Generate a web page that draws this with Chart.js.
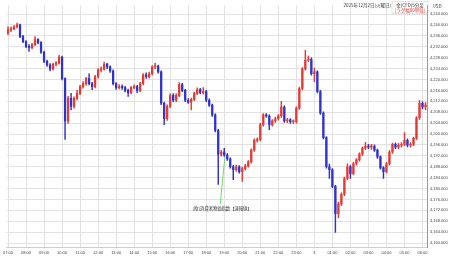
<!DOCTYPE html>
<html>
<head>
<meta charset="utf-8">
<script src="https://cdn.jsdelivr.net/npm/chart.js@4.4.1/dist/chart.umd.min.js"></script>
<style>
  html, body { margin: 0; padding: 0; background: #fff; }
  canvas { display: block; }
</style>
</head>
<body>
<canvas id="chart" width="450" height="258"></canvas>
<script>
// Gold (CFD) candles, 10 minute steps from 07:00 to 06:10 next day
const opens = [
  4237.1, 4238.2, 4238.6, 4239.3, 4240.0, 4235.7, 4233.9, 4232.1, 4231.7, 4232.8,
  4234.6, 4233.5, 4230.0, 4226.7, 4225.3, 4223.9, 4225.6, 4226.0, 4228.2, 4220.3,
  4204.8, 4213.1, 4210.2, 4213.1, 4214.9, 4217.4, 4218.5, 4220.3, 4218.5, 4217.4,
  4221.0, 4223.5, 4223.9, 4225.6, 4224.6, 4223.1, 4218.5, 4217.0, 4217.4, 4217.0,
  4216.0, 4215.2, 4217.0, 4217.4, 4216.0, 4218.5, 4221.7, 4221.0, 4222.1, 4224.6,
  4224.9, 4222.8, 4211.3, 4205.6, 4210.2, 4214.2, 4212.4, 4214.2, 4218.1, 4216.0,
  4212.4, 4211.7, 4212.7, 4214.9, 4216.3, 4215.2, 4215.6, 4212.4, 4210.6, 4207.0,
  4201.3, 4192.6, 4193.4, 4192.3, 4190.9, 4188.0, 4186.9, 4188.0, 4186.2, 4187.3,
  4188.3, 4189.8, 4194.1, 4197.7, 4198.0, 4203.4, 4207.0, 4206.6, 4203.4, 4204.8,
  4205.6, 4206.6, 4209.9, 4204.8, 4205.2, 4204.5, 4204.5, 4209.5, 4216.7, 4223.9,
  4227.1, 4227.4, 4222.1, 4222.8, 4215.6, 4207.7, 4198.7, 4188.0, 4186.9, 4180.8,
  4170.8, 4174.3, 4177.9, 4183.7, 4188.0, 4185.5, 4189.1, 4190.5, 4192.6, 4194.8,
  4195.5, 4195.2, 4195.5, 4194.1, 4191.6, 4187.6, 4186.2, 4189.1, 4193.4, 4196.2,
  4195.2, 4195.9, 4196.2, 4197.7, 4195.9, 4196.2, 4198.4, 4205.9, 4211.3, 4209.9
];
const highs = [
  4239.3, 4239.3, 4239.8, 4240.7, 4240.3, 4236.2, 4234.3, 4232.8, 4233.3, 4235.7,
  4235.0, 4233.9, 4230.4, 4227.1, 4225.8, 4226.0, 4226.6, 4228.9, 4228.6, 4220.6,
  4213.8, 4214.9, 4213.6, 4216.0, 4217.9, 4219.2, 4220.8, 4222.1, 4219.0, 4221.5,
  4224.0, 4224.6, 4226.4, 4226.0, 4225.0, 4223.5, 4218.9, 4218.1, 4218.0, 4217.5,
  4216.5, 4217.5, 4218.0, 4217.9, 4219.0, 4222.2, 4222.4, 4222.7, 4225.0, 4226.0,
  4225.3, 4223.2, 4211.7, 4210.7, 4214.7, 4214.8, 4214.8, 4218.9, 4218.6, 4216.4,
  4213.0, 4213.2, 4215.4, 4216.9, 4216.8, 4217.0, 4216.0, 4212.9, 4211.0, 4207.4,
  4201.7, 4194.0, 4194.8, 4192.8, 4191.3, 4188.5, 4188.6, 4188.4, 4187.9, 4188.9,
  4190.3, 4194.6, 4198.2, 4198.6, 4203.9, 4207.5, 4207.5, 4207.0, 4205.3, 4206.1,
  4207.1, 4212.0, 4210.3, 4205.8, 4205.7, 4205.2, 4210.0, 4217.2, 4224.4, 4230.7,
  4228.6, 4227.9, 4224.2, 4223.2, 4216.0, 4208.1, 4199.1, 4189.0, 4187.3, 4181.2,
  4175.0, 4178.4, 4184.2, 4189.1, 4188.5, 4189.6, 4191.0, 4193.1, 4195.3, 4197.0,
  4196.2, 4196.2, 4196.0, 4194.5, 4192.0, 4188.1, 4189.6, 4193.9, 4196.7, 4196.8,
  4196.6, 4196.9, 4200.5, 4198.2, 4196.9, 4198.9, 4206.4, 4212.4, 4211.8, 4211.5
];
const lows = [
  4236.4, 4237.5, 4238.2, 4238.9, 4235.3, 4233.5, 4231.7, 4230.3, 4231.2, 4232.4,
  4233.0, 4229.6, 4226.2, 4224.8, 4223.1, 4223.4, 4225.0, 4225.6, 4219.8, 4198.0,
  4203.9, 4208.8, 4209.5, 4212.5, 4214.4, 4216.8, 4217.9, 4218.0, 4216.3, 4216.9,
  4220.5, 4222.8, 4223.4, 4224.0, 4222.6, 4218.0, 4216.4, 4216.5, 4216.4, 4215.4,
  4213.8, 4214.7, 4216.5, 4215.2, 4215.5, 4218.0, 4220.4, 4220.5, 4221.6, 4224.0,
  4222.3, 4210.8, 4203.4, 4205.0, 4209.7, 4211.9, 4211.9, 4213.7, 4215.5, 4211.9,
  4211.2, 4208.8, 4212.2, 4214.4, 4214.7, 4214.6, 4211.9, 4210.1, 4206.5, 4200.8,
  4181.5, 4191.9, 4191.8, 4190.3, 4187.5, 4183.3, 4186.4, 4185.6, 4182.6, 4186.7,
  4187.8, 4189.3, 4193.6, 4197.0, 4197.5, 4202.9, 4206.1, 4201.6, 4202.9, 4204.3,
  4205.1, 4206.1, 4204.3, 4204.2, 4203.9, 4203.8, 4204.0, 4209.0, 4216.2, 4223.4,
  4226.5, 4221.6, 4219.2, 4215.1, 4207.2, 4198.2, 4187.5, 4183.7, 4180.3, 4163.9,
  4169.3, 4173.8, 4177.4, 4183.2, 4183.7, 4185.0, 4188.6, 4190.0, 4192.1, 4194.3,
  4194.6, 4194.4, 4193.6, 4191.1, 4187.1, 4183.7, 4185.7, 4188.6, 4192.9, 4194.6,
  4194.6, 4195.2, 4195.7, 4195.3, 4195.2, 4195.7, 4197.9, 4205.4, 4209.2, 4208.8
];
const closes = [
  4238.2, 4238.6, 4239.3, 4240.0, 4235.7, 4233.9, 4232.1, 4231.7, 4232.8, 4234.6,
  4233.5, 4230.0, 4226.7, 4225.3, 4223.9, 4225.6, 4226.0, 4228.2, 4220.3, 4204.8,
  4213.1, 4210.2, 4213.1, 4214.9, 4217.4, 4218.5, 4220.3, 4218.5, 4217.4, 4221.0,
  4223.5, 4223.9, 4225.6, 4224.6, 4223.1, 4218.5, 4217.0, 4217.4, 4217.0, 4216.0,
  4215.2, 4217.0, 4217.4, 4216.0, 4218.5, 4221.7, 4221.0, 4222.1, 4224.6, 4224.9,
  4222.8, 4211.3, 4205.6, 4210.2, 4214.2, 4212.4, 4214.2, 4218.1, 4216.0, 4212.4,
  4211.7, 4212.7, 4214.9, 4216.3, 4215.2, 4215.6, 4212.4, 4210.6, 4207.0, 4201.3,
  4192.6, 4193.4, 4192.3, 4190.9, 4188.0, 4186.9, 4188.0, 4186.2, 4187.3, 4188.3,
  4189.8, 4194.1, 4197.7, 4198.0, 4203.4, 4207.0, 4206.6, 4203.4, 4204.8, 4205.6,
  4206.6, 4209.9, 4204.8, 4205.2, 4204.5, 4204.5, 4209.5, 4216.7, 4223.9, 4227.1,
  4227.4, 4222.1, 4222.8, 4215.6, 4207.7, 4198.7, 4188.0, 4186.9, 4180.8, 4170.8,
  4174.3, 4177.9, 4183.7, 4188.0, 4185.5, 4189.1, 4190.5, 4192.6, 4194.8, 4195.5,
  4195.2, 4195.5, 4194.1, 4191.6, 4187.6, 4186.2, 4189.1, 4193.4, 4196.2, 4195.2,
  4195.9, 4196.2, 4197.7, 4195.9, 4196.2, 4198.4, 4205.9, 4211.3, 4209.9, 4210.6
];

// x axis: hour ticks (00:00 shows the day number)
const hourTicks = ['07:00', '08:00', '09:00', '10:00', '11:00', '12:00', '13:00', '14:00',
  '15:00', '16:00', '17:00', '18:00', '19:00', '20:00', '21:00', '22:00', '23:00',
  '00:00', '01:00', '02:00', '03:00', '04:00', '05:00', '06:00'];
const dayMark = { '00:00': '3' };

// annotation
const eventTime = '19:00';
const eventText = '(欧)消費者物価指数【速報値】';
const eventLine = [4191.6, 4174.3];

const startMinutes = 7 * 60;
const stepMinutes = 10;
const times = opens.map((_, i) => {
  const m = (startMinutes + i * stepMinutes) % 1440;
  return String(Math.floor(m / 60)).padStart(2, '0') + ':' + String(m % 60).padStart(2, '0');
});

const upColor = 'rgb(226,58,52)';
const downColor = 'rgb(48,50,205)';
const candleColors = opens.map((o, i) => closes[i] >= o ? upColor : downColor);
const gridColor = '#e2e2e2';
const tickFont = { family: 'Liberation Sans', size: 4 };

const overlay = {
  id: 'overlay',
  afterDraw(chart) {
    const { ctx, scales: { x, y } } = chart;
    ctx.save();

    // event marker line + label
    const px = x.getPixelForValue(times.indexOf(eventTime));
    const top = y.getPixelForValue(eventLine[0]);
    const bottom = y.getPixelForValue(eventLine[1]);
    ctx.strokeStyle = '#4fcf4f';
    ctx.lineWidth = 0.8;
    ctx.beginPath();
    ctx.moveTo(px + 0.6, top);
    ctx.lineTo(px - 4, bottom);
    ctx.stroke();
    ctx.font = '4.3px "Noto Sans CJK JP"';
    ctx.fillStyle = '#333';
    ctx.textAlign = 'center';
    ctx.textBaseline = 'middle';
    ctx.fillText(eventText, px - 2, bottom + 4.5);

    // header at top right
    ctx.font = '4.5px "Noto Sans CJK JP"';
    ctx.textAlign = 'right';
    ctx.fillStyle = '#333';
    ctx.fillText('2025年12月2日(火曜日)', 391, 5);
    ctx.textAlign = 'center';
    ctx.fillText('金(CFD)5分足', 410, 5);
    ctx.fillStyle = '#e03030';
    ctx.fillText('[ラグ幅00単位]', 410, 10.5);
    ctx.strokeStyle = '#c8c8c8';
    ctx.lineWidth = 0.5;
    ctx.strokeRect(392, 1.5, 36, 12);
    ctx.fillStyle = '#333';
    ctx.fillText('USD', 437, 6);
    ctx.restore();
  }
};

new Chart(document.getElementById('chart'), {
  type: 'bar',
  data: {
    labels: times,
    datasets: [
      {
        label: 'wick',
        data: lows.map((l, i) => [l, highs[i]]),
        backgroundColor: candleColors,
        barThickness: 0.8,
        grouped: false,
        order: 2
      },
      {
        label: 'body',
        data: opens.map((o, i) => [o, closes[i]]),
        backgroundColor: candleColors,
        barThickness: 1.6,
        minBarLength: 1,
        grouped: false,
        order: 1
      }
    ]
  },
  options: {
    responsive: false,
    animation: false,
    layout: { padding: 0, autoPadding: false },
    plugins: { legend: { display: false }, tooltip: { enabled: false } },
    scales: {
      x: {
        offset: true,
        afterFit: s => { s.height = 11; },
        grid: {
          offset: false,
          drawTicks: false,
          color: c => hourTicks.includes(times[c.index]) ? gridColor : 'rgba(0,0,0,0)'
        },
        border: { display: true, color: '#cfcfcf' },
        ticks: {
          autoSkip: false,
          maxRotation: 0,
          padding: 3,
          font: tickFont,
          color: '#444',
          callback: (v, i) => {
            const t = times[i];
            if (!hourTicks.includes(t)) return '';
            return dayMark[t] || t;
          }
        }
      },
      y: {
        position: 'right',
        min: 4158.57,
        max: 4247.17,
        afterFit: s => { s.width = 23; },
        grid: { color: gridColor, drawTicks: false },
        border: { display: true, color: '#999' },
        ticks: {
          stepSize: 4,
          includeBounds: false,
          padding: 3,
          font: tickFont,
          color: '#444',
          callback: v => v.toLocaleString('en-US', { minimumFractionDigits: 3, maximumFractionDigits: 3 })
        }
      }
    }
  },
  plugins: [overlay]
});
</script>
</body>
</html>
